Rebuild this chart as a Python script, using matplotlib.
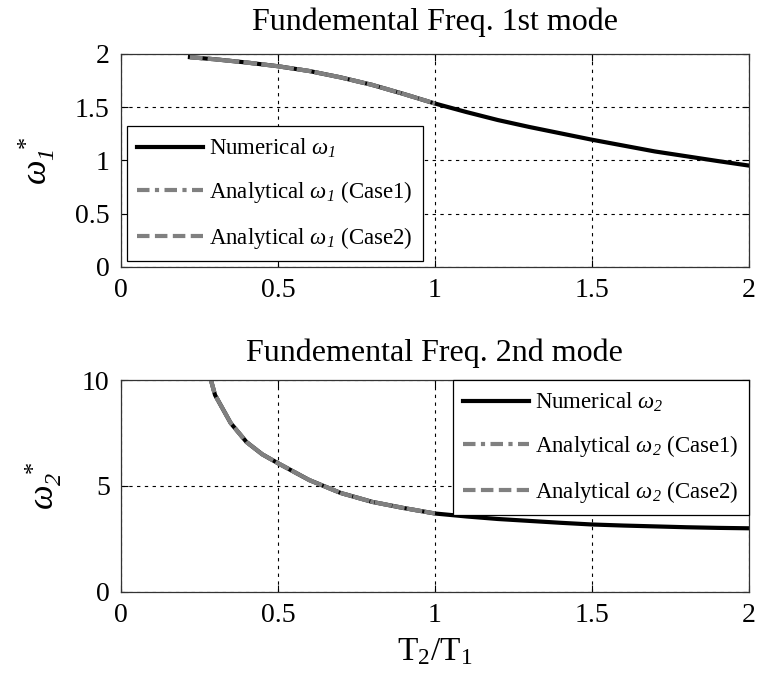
import matplotlib
matplotlib.use("Agg")
import matplotlib.pyplot as plt

plt.rcParams['font.family'] = ['Liberation Serif', 'DejaVu Serif']
plt.rcParams['mathtext.fontset'] = 'custom'
plt.rcParams['mathtext.rm'] = 'Liberation Serif'
plt.rcParams['mathtext.it'] = 'Liberation Serif:italic'
plt.rcParams['mathtext.cal'] = 'Liberation Serif:italic'

# Mode 1 data
x1_num = [0.22, 0.3, 0.4, 0.5, 0.6, 0.7, 0.8, 0.9, 1.0, 1.1, 1.2, 1.3, 1.4, 1.5, 1.6, 1.7, 1.8, 1.9, 2.0]
w1_num = [1.97, 1.95, 1.92, 1.885, 1.84, 1.78, 1.71, 1.625, 1.535, 1.455, 1.38, 1.315, 1.255, 1.195, 1.14, 1.085, 1.04, 0.995, 0.952]
x1_ana = [0.22, 0.3, 0.4, 0.5, 0.6, 0.7, 0.8, 0.9, 1.0]
w1_c1 = [1.97, 1.95, 1.92, 1.885, 1.84, 1.78, 1.71, 1.625, 1.535]
w1_c2 = [1.97, 1.95, 1.92, 1.885, 1.84, 1.78, 1.71, 1.625, 1.535]

# Mode 2 data
x2_num = [0.287, 0.3, 0.35, 0.4, 0.45, 0.5, 0.6, 0.7, 0.8, 0.9, 1.0, 1.1, 1.2, 1.3, 1.4, 1.5, 1.6, 1.7, 1.8, 1.9, 2.0]
w2_num = [10.0, 9.3, 7.97, 7.08, 6.5, 6.08, 5.28, 4.67, 4.25, 3.96, 3.70, 3.56, 3.44, 3.35, 3.26, 3.18, 3.13, 3.09, 3.05, 3.02, 3.0]
x2_ana = [0.287, 0.3, 0.35, 0.4, 0.45, 0.5, 0.6, 0.7, 0.8, 0.9, 1.0]
w2_c1 = [10.0, 9.3, 7.97, 7.08, 6.5, 6.08, 5.28, 4.67, 4.25, 3.96, 3.70]
w2_c2 = [10.0, 9.3, 7.97, 7.08, 6.5, 6.08, 5.28, 4.67, 4.25, 3.96, 3.70]

xticks = [0, 0.5, 1, 1.5, 2]
xtick_labels = ['0', '0.5', '1', '1.5', '2']
y1ticks = [0, 0.5, 1, 1.5, 2]
y1tick_labels = ['0', '0.5', '1', '1.5', '2']
y2ticks = [0, 5, 10]
y2tick_labels = ['0', '5', '10']

fig = plt.figure(figsize=(7.6, 6.79), dpi=100)
ax1 = fig.add_axes([0.159, 0.6068, 0.8265, 0.3137])
ax2 = fig.add_axes([0.159, 0.1285, 0.8265, 0.3115])

gray = '#808080'
ls_c1 = (0, (3, 1.3, 1, 1.3))
ls_c2 = (0, (3, 1.3))

def style(ax):
    ax.tick_params(direction='in', top=True, right=True, labelsize=20, length=5, width=0.8, pad=8)
    ax.grid(True, color='black', linestyle=(0, (3, 4)), linewidth=0.8)
    for s in ax.spines.values():
        s.set_linewidth(0.9)
        s.set_color('#333333')

def legend(ax, loc, bap):
    leg = ax.legend(loc=loc, fontsize=16.5, frameon=True, fancybox=False,
                    edgecolor='black', handlelength=2.9, handletextpad=0.25,
                    borderaxespad=bap, labelspacing=0.85, borderpad=0.45,
                    framealpha=1)
    leg.get_frame().set_linewidth(0.9)
    return leg

ax1.plot(x1_num, w1_num, color='black', lw=3, label=r'Numerical $\omega_{\mathcal{1}}$')
ax1.plot(x1_ana, w1_c1, color=gray, lw=3, linestyle=ls_c1, label=r'Analytical $\omega_{\mathcal{1}}$ (Case1)')
ax1.plot(x1_ana, w1_c2, color=gray, lw=3, linestyle=ls_c2, label=r'Analytical $\omega_{\mathcal{1}}$ (Case2)')
ax1.set_xlim(0, 2)
ax1.set_ylim(0, 2)
ax1.set_xticks(xticks)
ax1.set_xticklabels(xtick_labels)
ax1.set_yticks(y1ticks)
ax1.set_yticklabels(y1tick_labels)
style(ax1)
ax1.set_title('Fundemental Freq. 1st mode', fontsize=23, pad=17)
ax1.set_ylabel(r'$\omega_{\mathcal{1}}^{\ *}$', fontsize=25, labelpad=13)
legend(ax1, 'lower left', 0.25)

ax2.plot(x2_num, w2_num, color='black', lw=3, label=r'Numerical $\omega_{\mathcal{2}}$')
ax2.plot(x2_ana, w2_c1, color=gray, lw=3, linestyle=ls_c1, label=r'Analytical $\omega_{\mathcal{2}}$ (Case1)')
ax2.plot(x2_ana, w2_c2, color=gray, lw=3, linestyle=ls_c2, label=r'Analytical $\omega_{\mathcal{2}}$ (Case2)')
ax2.set_xlim(0, 2)
ax2.set_ylim(0, 10)
ax2.set_xticks(xticks)
ax2.set_xticklabels(xtick_labels)
ax2.set_yticks(y2ticks)
ax2.set_yticklabels(y2tick_labels)
style(ax2)
ax2.set_title('Fundemental Freq. 2nd mode', fontsize=23, pad=14)
ax2.set_ylabel(r'$\omega_{\mathcal{2}}^{\ *}$', fontsize=25, labelpad=13)
ax2.set_xlabel(r'T$_2$/T$_1$', fontsize=24, labelpad=6)
legend(ax2, 'upper right', 0.0)

fig.savefig('out.png', dpi=100)
